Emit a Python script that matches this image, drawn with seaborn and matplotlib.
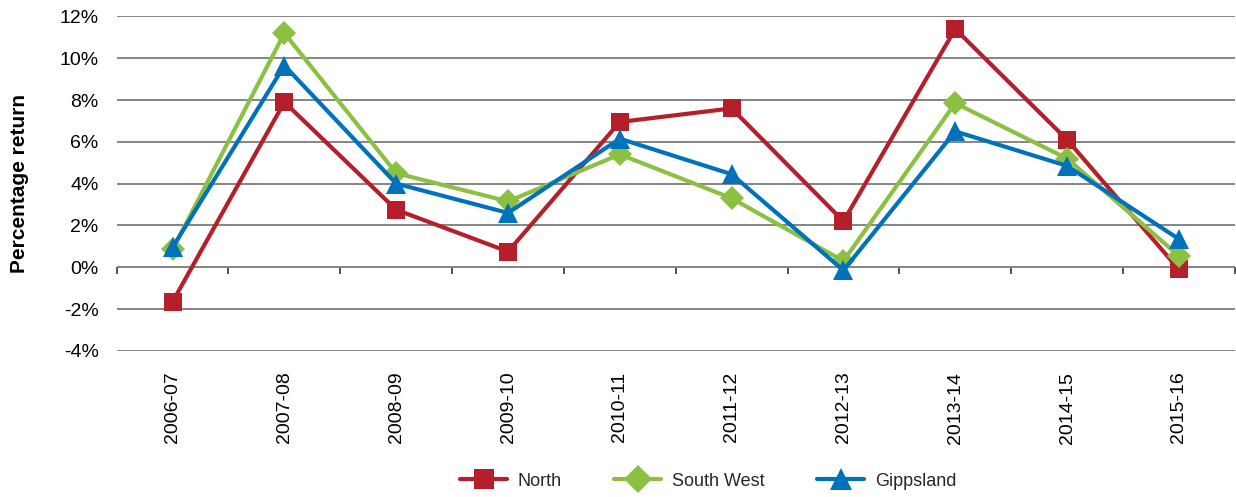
import matplotlib
matplotlib.use("Agg")
import matplotlib.pyplot as plt
import seaborn as sns
import pandas as pd
from matplotlib.ticker import FuncFormatter, FixedLocator

# Annual percentage return by region
years = ["2006-07", "2007-08", "2008-09", "2009-10", "2010-11",
         "2011-12", "2012-13", "2013-14", "2014-15", "2015-16"]
north = [-1.65, 7.9, 2.75, 0.75, 6.95, 7.6, 2.2, 11.4, 6.1, -0.1]
south_west = [0.85, 11.2, 4.5, 3.15, 5.4, 3.3, 0.3, 7.85, 5.2, 0.55]
gippsland = [0.95, 9.65, 4.0, 2.6, 6.15, 4.45, -0.15, 6.5, 4.85, 1.35]

regions = ["North", "South West", "Gippsland"]
colors = {"North": "#B51F29", "South West": "#8CC043", "Gippsland": "#0072BC"}
markers = {"North": "s", "South West": "D", "Gippsland": "^"}
msizes = {"North": 13, "South West": 12, "Gippsland": 14}

df = pd.DataFrame({
    "year": years * 3,
    "x": list(range(len(years))) * 3,
    "value": north + south_west + gippsland,
    "region": ["North"] * 10 + ["South West"] * 10 + ["Gippsland"] * 10,
})

sns.set_theme(style="white")
plt.rcParams["font.family"] = ["Liberation Sans", "DejaVu Sans"]

fig = plt.figure(figsize=(12.36, 4.97), dpi=100)
ax = fig.add_axes([0.0944, 0.294, 0.9046, 0.673])

for r in regions:
    sub = df[df["region"] == r]
    sns.lineplot(data=sub, x="x", y="value", ax=ax, color=colors[r],
                 marker=markers[r], markersize=msizes[r], markeredgewidth=0,
                 linewidth=3, label=r, zorder=3)

ax.set_xlim(-0.5, len(years) - 0.5)
ax.set_ylim(-4, 12)
ax.yaxis.set_major_locator(FixedLocator(range(-4, 13, 2)))
ax.yaxis.set_major_formatter(FuncFormatter(lambda v, p: f"{int(v)}%"))
ax.grid(axis="y", color="#858585", linewidth=1.4)
ax.grid(axis="x", visible=False)
for s in ax.spines.values():
    s.set_visible(False)

ax.set_xticks(range(len(years)))
ax.set_xticklabels(years, rotation=90, fontsize=14, color="black")
ax.tick_params(axis="x", length=0, pad=15)
ax.tick_params(axis="y", length=0, pad=13, labelsize=14, labelcolor="black")
ax.set_xlabel("")
ax.set_ylabel("Percentage return", fontsize=15, fontweight="bold",
              color="black", labelpad=22)

# Category axis drawn along the zero line, with ticks between categories
zero_axis = ax.secondary_xaxis(0.25)
zero_axis.set_xticks([i - 0.5 for i in range(len(years) + 1)])
zero_axis.set_xticklabels([])
zero_axis.tick_params(axis="x", direction="out", length=5, width=1.2,
                      color="#333333")
zero_axis.spines["bottom"].set_visible(False)

leg = ax.legend(loc="center", bbox_to_anchor=(0.573, 0.032),
                bbox_transform=fig.transFigure, ncol=3, frameon=False,
                fontsize=13, handlelength=2.6, handletextpad=0.6,
                columnspacing=2.9, markerscale=1.15)

fig.savefig("out.png", dpi=100)
